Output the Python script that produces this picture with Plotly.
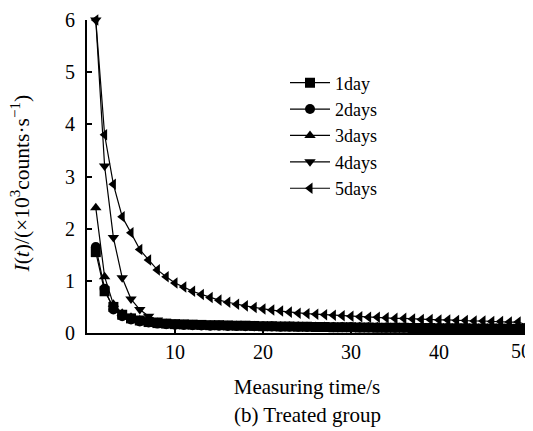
import plotly.graph_objects as go

t = list(range(1, 51))

day1 = [1.55, 0.80, 0.50, 0.35, 0.28, 0.24, 0.21, 0.19, 0.18, 0.17,
        0.165, 0.16, 0.155, 0.15, 0.15, 0.145, 0.14, 0.14, 0.135, 0.13,
        0.13, 0.125, 0.125, 0.12, 0.12, 0.115, 0.115, 0.11, 0.11, 0.11,
        0.105, 0.105, 0.10, 0.10, 0.10, 0.10, 0.095, 0.095, 0.095, 0.09,
        0.09, 0.09, 0.09, 0.085, 0.085, 0.085, 0.085, 0.08, 0.08, 0.08]
day2 = [1.65, 0.85, 0.45, 0.32, 0.26, 0.22, 0.20, 0.18, 0.17, 0.16,
        0.155, 0.15, 0.145, 0.14, 0.14, 0.135, 0.135, 0.13, 0.13, 0.125,
        0.125, 0.12, 0.12, 0.12, 0.115, 0.115, 0.115, 0.11, 0.11, 0.11,
        0.105, 0.105, 0.105, 0.10, 0.10, 0.10, 0.10, 0.10, 0.095, 0.095,
        0.095, 0.095, 0.09, 0.09, 0.09, 0.09, 0.09, 0.09, 0.09, 0.09]
day3 = [2.40, 1.08, 0.55, 0.38, 0.30, 0.25, 0.22, 0.20, 0.18, 0.17,
        0.165, 0.16, 0.155, 0.15, 0.15, 0.145, 0.145, 0.14, 0.14, 0.135,
        0.135, 0.13, 0.13, 0.13, 0.125, 0.125, 0.125, 0.12, 0.12, 0.12,
        0.12, 0.115, 0.115, 0.115, 0.115, 0.11, 0.11, 0.11, 0.11, 0.11,
        0.105, 0.105, 0.105, 0.105, 0.105, 0.10, 0.10, 0.10, 0.10, 0.10]
day4 = [6.00, 3.20, 1.83, 1.06, 0.65, 0.45, 0.32, 0.25, 0.21, 0.19,
        0.18, 0.17, 0.165, 0.16, 0.155, 0.15, 0.15, 0.145, 0.145, 0.14,
        0.14, 0.135, 0.135, 0.13, 0.13, 0.13, 0.125, 0.125, 0.125, 0.12,
        0.12, 0.12, 0.12, 0.115, 0.115, 0.115, 0.115, 0.11, 0.11, 0.11,
        0.11, 0.11, 0.105, 0.105, 0.105, 0.105, 0.10, 0.10, 0.10, 0.10]
day5 = [6.00, 3.80, 2.85, 2.23, 1.92, 1.60, 1.40, 1.21, 1.08, 0.96,
        0.88, 0.80, 0.74, 0.68, 0.63, 0.59, 0.55, 0.52, 0.49, 0.46,
        0.44, 0.42, 0.40, 0.38, 0.37, 0.36, 0.35, 0.34, 0.33, 0.32,
        0.31, 0.30, 0.30, 0.29, 0.28, 0.28, 0.27, 0.26, 0.26, 0.25,
        0.25, 0.24, 0.24, 0.23, 0.23, 0.22, 0.22, 0.21, 0.21, 0.15]

names = ["1day", "2days", "3days", "4days", "5days"]
series = [day1, day2, day3, day4, day5]
symbols = ["square", "circle", "triangle-up", "triangle-down", "triangle-left"]

x_ticks = [10, 20, 30, 40, 50]
x_ticktext = ["10", "20", "30", "40", ""]   # "50" drawn as annotation so it stays inside the page
last_x_label = "50"
y_ticks = [0, 1, 2, 3, 4, 5, 6]

FONT = "Liberation Serif"

fig = go.Figure()
for name, ys, sym in zip(names, series, symbols):
    fig.add_trace(go.Scatter(
        x=t, y=ys, name=name, mode="lines+markers",
        line=dict(color="black", width=1.2),
        marker=dict(symbol=sym, size=10, color="black"),
        cliponaxis=False,
    ))

# page body has an 8px margin, so the figure is sized/placed to compensate
fig.update_layout(
    width=525, height=423,
    margin=dict(l=79, r=6, t=12, b=98, autoexpand=False),
    paper_bgcolor="white", plot_bgcolor="white",
    font=dict(family=FONT, size=20, color="black"),
    showlegend=True,
    legend=dict(x=0.45, y=0.858, xanchor="left", yanchor="top",
                bgcolor="rgba(0,0,0,0)",
                font=dict(family=FONT, size=18, color="black"),
                itemwidth=40, tracegroupgap=0),
    xaxis=dict(range=[0, 50], tickvals=x_ticks, ticktext=x_ticktext,
               automargin=False,
               showline=True, linecolor="black", linewidth=2,
               ticks="inside", ticklen=5, tickcolor="black", tickwidth=1.5,
               tickfont=dict(family=FONT, size=20, color="black"),
               showgrid=False, zeroline=False,
               title=dict(text="Measuring time/s", standoff=17,
                          font=dict(family=FONT, size=21, color="black"))),
    yaxis=dict(range=[0, 6], tickvals=y_ticks, automargin=False,
               showline=True, linecolor="black", linewidth=2,
               ticks="inside", ticklen=5, tickcolor="black", tickwidth=1.5,
               tickfont=dict(family=FONT, size=20, color="black"),
               ticklabelstandoff=6,
               showgrid=False, zeroline=False),
    annotations=[
        dict(text=last_x_label, x=1.0, y=0, xref="paper", yref="paper",
             showarrow=False, xanchor="right", yanchor="top",
             xshift=6, yshift=-5,
             font=dict(family=FONT, size=20, color="black")),
        dict(text="(b) Treated group", x=0.5, y=-0.262,
             xref="paper", yref="paper", showarrow=False,
             xanchor="center", yanchor="middle",
             font=dict(family=FONT, size=21, color="black")),
        dict(text="<i>I</i>(<i>t</i>)/(×10<sup>3</sup>counts·s<sup>−1</sup>)",
             x=-0.152, y=0.478, xref="paper", yref="paper",
             showarrow=False, textangle=-90,
             xanchor="center", yanchor="middle",
             font=dict(family=FONT, size=21.5, color="black")),
    ],
)

fig.write_html("out.html")
